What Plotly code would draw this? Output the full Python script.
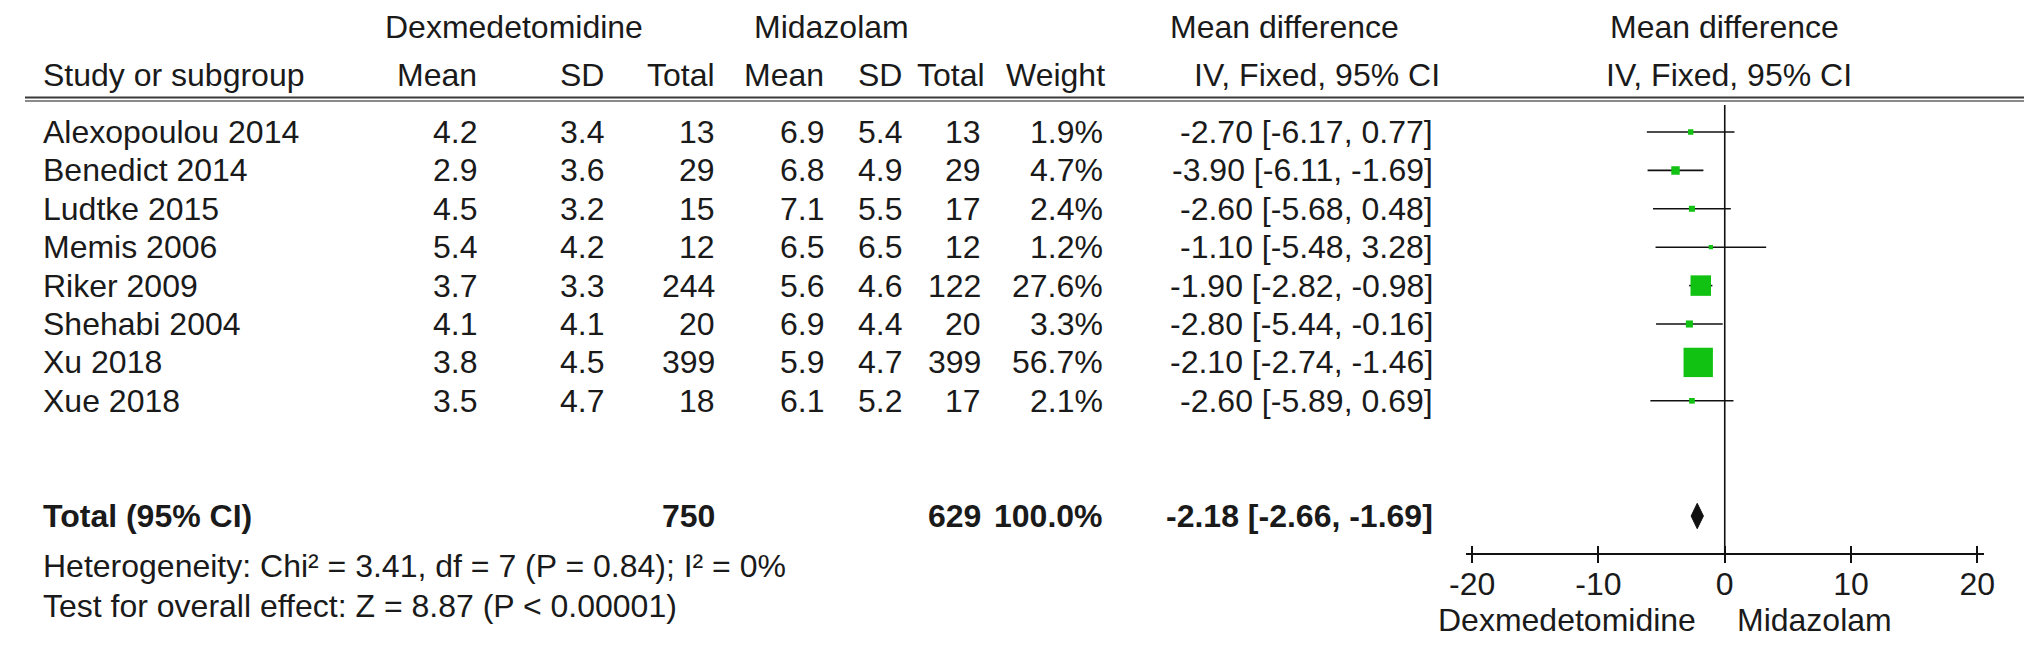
import math
import plotly.graph_objects as go

# ---------------- data ----------------
studies = ["Alexopoulou 2014", "Benedict 2014", "Ludtke 2015", "Memis 2006",
           "Riker 2009", "Shehabi 2004", "Xu 2018", "Xue 2018"]
dex_mean = [4.2, 2.9, 4.5, 5.4, 3.7, 4.1, 3.8, 3.5]
dex_sd = [3.4, 3.6, 3.2, 4.2, 3.3, 4.1, 4.5, 4.7]
dex_n = [13, 29, 15, 12, 244, 20, 399, 18]
mid_mean = [6.9, 6.8, 7.1, 6.5, 5.6, 6.9, 5.9, 6.1]
mid_sd = [5.4, 4.9, 5.5, 6.5, 4.6, 4.4, 4.7, 5.2]
mid_n = [13, 29, 17, 12, 122, 20, 399, 17]
weight = [1.9, 4.7, 2.4, 1.2, 27.6, 3.3, 56.7, 2.1]
md = [-2.70, -3.90, -2.60, -1.10, -1.90, -2.80, -2.10, -2.60]
ci_lo = [-6.17, -6.11, -5.68, -5.48, -2.82, -5.44, -2.74, -5.89]
ci_hi = [0.77, -1.69, 0.48, 3.28, -0.98, -0.16, -1.46, 0.69]

total_label = "Total (95% CI)"
total_dex_n = 750
total_mid_n = 629
total_weight = 100.0
total_md = -2.18
total_lo = -2.66
total_hi = -1.69

heterogeneity = "Heterogeneity: Chi\u00b2 = 3.41, df = 7 (P = 0.84); I\u00b2 = 0%"
overall_effect = "Test for overall effect: Z = 8.87 (P < 0.00001)"

x_ticks = [-20, -10, 0, 10, 20]
favours = ["Dexmedetomidine", "Midazolam"]
favours_x = [-12.5, 7.1]
group_headers = ["Dexmedetomidine", "Midazolam"]
col_headers = ["Study or subgroup", "Mean", "SD", "Total", "Mean", "SD", "Total", "Weight"]

# ---------------- layout helpers ----------------
W, H = 2032, 648
OFFY = -7                    # compensate the page body margin
ROW0 = 131.0 + OFFY          # pixel y of first study row
ROWH = 38.4                  # pixel spacing of rows
Y_TOP = -ROW0 / ROWH
Y_BOT = (H - ROW0) / ROWH
FONT = "Liberation Sans, Arial, Helvetica, sans-serif"
FS = 32
TXT = "#1a1a1a"
GREEN = "#12c212"

def px(x):
    return x / W

def vpix(p):
    return (p + OFFY - ROW0) / ROWH

TOTAL_ROW = 10
AXIS_V = 11.0
HDR1_V = vpix(26)
HDR2_V = vpix(74)

# column right edges (pixels)
c_name = 16
c_dm, c_dsd, c_dn = 460, 589, 702
c_mm, c_msd, c_mn = 812, 891, 971
c_w = 1095
c_md = 1430

fig = go.Figure()

# CI lines
for i in range(len(studies)):
    fig.add_trace(go.Scatter(x=[ci_lo[i], ci_hi[i]], y=[i, i], mode="lines",
                             line=dict(color="#111111", width=1.6),
                             showlegend=False, hoverinfo="skip"))

# line of no effect
fig.add_trace(go.Scatter(x=[0, 0], y=[vpix(104), AXIS_V], mode="lines",
                         line=dict(color="#111111", width=1.6),
                         showlegend=False, hoverinfo="skip"))

# weight squares
fig.add_trace(go.Scatter(x=md, y=list(range(len(studies))), mode="markers",
                         marker=dict(symbol="square", color=GREEN, opacity=1,
                                     size=[3.9 * math.sqrt(w) for w in weight],
                                     line=dict(width=0)),
                         showlegend=False, hoverinfo="skip"))

# diamond
hh = 0.33
fig.add_trace(go.Scatter(x=[total_lo, total_md, total_hi, total_md, total_lo],
                         y=[TOTAL_ROW, TOTAL_ROW - hh, TOTAL_ROW, TOTAL_ROW + hh, TOTAL_ROW],
                         mode="lines", fill="toself", fillcolor="#111111",
                         line=dict(color="#111111", width=1),
                         showlegend=False, hoverinfo="skip"))

# invisible trace for the overlay axis (inner tick marks)
fig.add_trace(go.Scatter(x=[x_ticks[0]], y=[AXIS_V], xaxis="x2", mode="markers",
                         marker=dict(opacity=0), showlegend=False, hoverinfo="skip"))

ann = []

def add_text(x, y, text, anchor="right", bold=False, xref="paper"):
    t = "<b>%s</b>" % text if bold else text
    ann.append(dict(x=x, y=y, xref=xref, yref="y", text=t, showarrow=False,
                    xanchor=anchor, yanchor="middle",
                    font=dict(family=FONT, size=FS, color=TXT)))

# headers
add_text(px(496), HDR1_V, group_headers[0], anchor="center")
add_text(px(818), HDR1_V, group_headers[1], anchor="center")
add_text(px(1277), HDR1_V, "Mean difference", anchor="center")
add_text(0, HDR1_V, "Mean difference", anchor="center", xref="x")
add_text(px(c_name), HDR2_V, col_headers[0], anchor="left")
for xp, h in zip([c_dm, c_dsd, c_dn, c_mm, c_msd, c_mn + 4, c_w + 2], col_headers[1:]):
    add_text(px(xp), HDR2_V, h)
add_text(px(1310), HDR2_V, "IV, Fixed, 95% CI", anchor="center")
add_text(0.3, HDR2_V, "IV, Fixed, 95% CI", anchor="center", xref="x")

# study rows
for i, s in enumerate(studies):
    add_text(px(c_name), i, s, anchor="left")
    add_text(px(c_dm), i, "%.1f" % dex_mean[i])
    add_text(px(c_dsd), i, "%.1f" % dex_sd[i])
    add_text(px(c_dn), i, "%d" % dex_n[i])
    add_text(px(c_mm), i, "%.1f" % mid_mean[i])
    add_text(px(c_msd), i, "%.1f" % mid_sd[i])
    add_text(px(c_mn), i, "%d" % mid_n[i])
    add_text(px(c_w), i, "%.1f%%" % weight[i])
    add_text(px(c_md), i, "%.2f [%.2f, %.2f]" % (md[i], ci_lo[i], ci_hi[i]))

# total row
add_text(px(c_name), TOTAL_ROW, total_label, anchor="left", bold=True)
add_text(px(c_dn), TOTAL_ROW, "%d" % total_dex_n, bold=True)
add_text(px(c_mn), TOTAL_ROW, "%d" % total_mid_n, bold=True)
add_text(px(c_w), TOTAL_ROW, "%.1f%%" % total_weight, bold=True)
add_text(px(c_md), TOTAL_ROW, "%.2f [%.2f, %.2f]" % (total_md, total_lo, total_hi), bold=True)

add_text(px(c_name), vpix(565), heterogeneity, anchor="left")
add_text(px(c_name), vpix(605), overall_effect, anchor="left")

# favours labels
for fx, ft in zip(favours_x, favours):
    add_text(fx, vpix(619), ft, anchor="center", xref="x")

shapes = [
    dict(type="line", xref="paper", yref="paper", x0=0, x1=1,
         y0=1 - (96.5 + OFFY) / H, y1=1 - (96.5 + OFFY) / H,
         line=dict(color="#3a3a3a", width=2)),
    dict(type="line", xref="paper", yref="paper", x0=0, x1=1,
         y0=1 - (100 + OFFY) / H, y1=1 - (100 + OFFY) / H,
         line=dict(color="#8a8a8a", width=2)),
]

x_lo_px, x_hi_px = 1461, 1986
axis_pos = 1 - (ROW0 + ROWH * AXIS_V) / H
xr = [-20.5, 20.5]

fig.update_layout(
    width=W, height=H,
    margin=dict(l=0, r=0, t=0, b=0),
    paper_bgcolor="white", plot_bgcolor="white",
    showlegend=False,
    annotations=ann, shapes=shapes,
    xaxis=dict(domain=[px(x_lo_px), px(x_hi_px)], range=xr, anchor="free",
               position=axis_pos, showgrid=False, zeroline=False,
               showline=True, linecolor="#111111", linewidth=1.6,
               ticks="outside", ticklen=8, tickwidth=1.6, tickcolor="#111111",
               tickvals=x_ticks, ticktext=[str(t) for t in x_ticks],
               ticklabelstandoff=-7,
               tickfont=dict(family=FONT, size=FS, color=TXT)),
    xaxis2=dict(domain=[px(x_lo_px), px(x_hi_px)], range=xr, anchor="free",
                position=axis_pos, overlaying="x", showgrid=False, zeroline=False,
                showline=False, ticks="inside", ticklen=8, tickwidth=1.6,
                tickcolor="#111111", tickvals=x_ticks, showticklabels=False),
    yaxis=dict(domain=[0, 1], range=[Y_BOT, Y_TOP], autorange=False,
               visible=False, showgrid=False, zeroline=False),
)

fig.write_html("out.html")
